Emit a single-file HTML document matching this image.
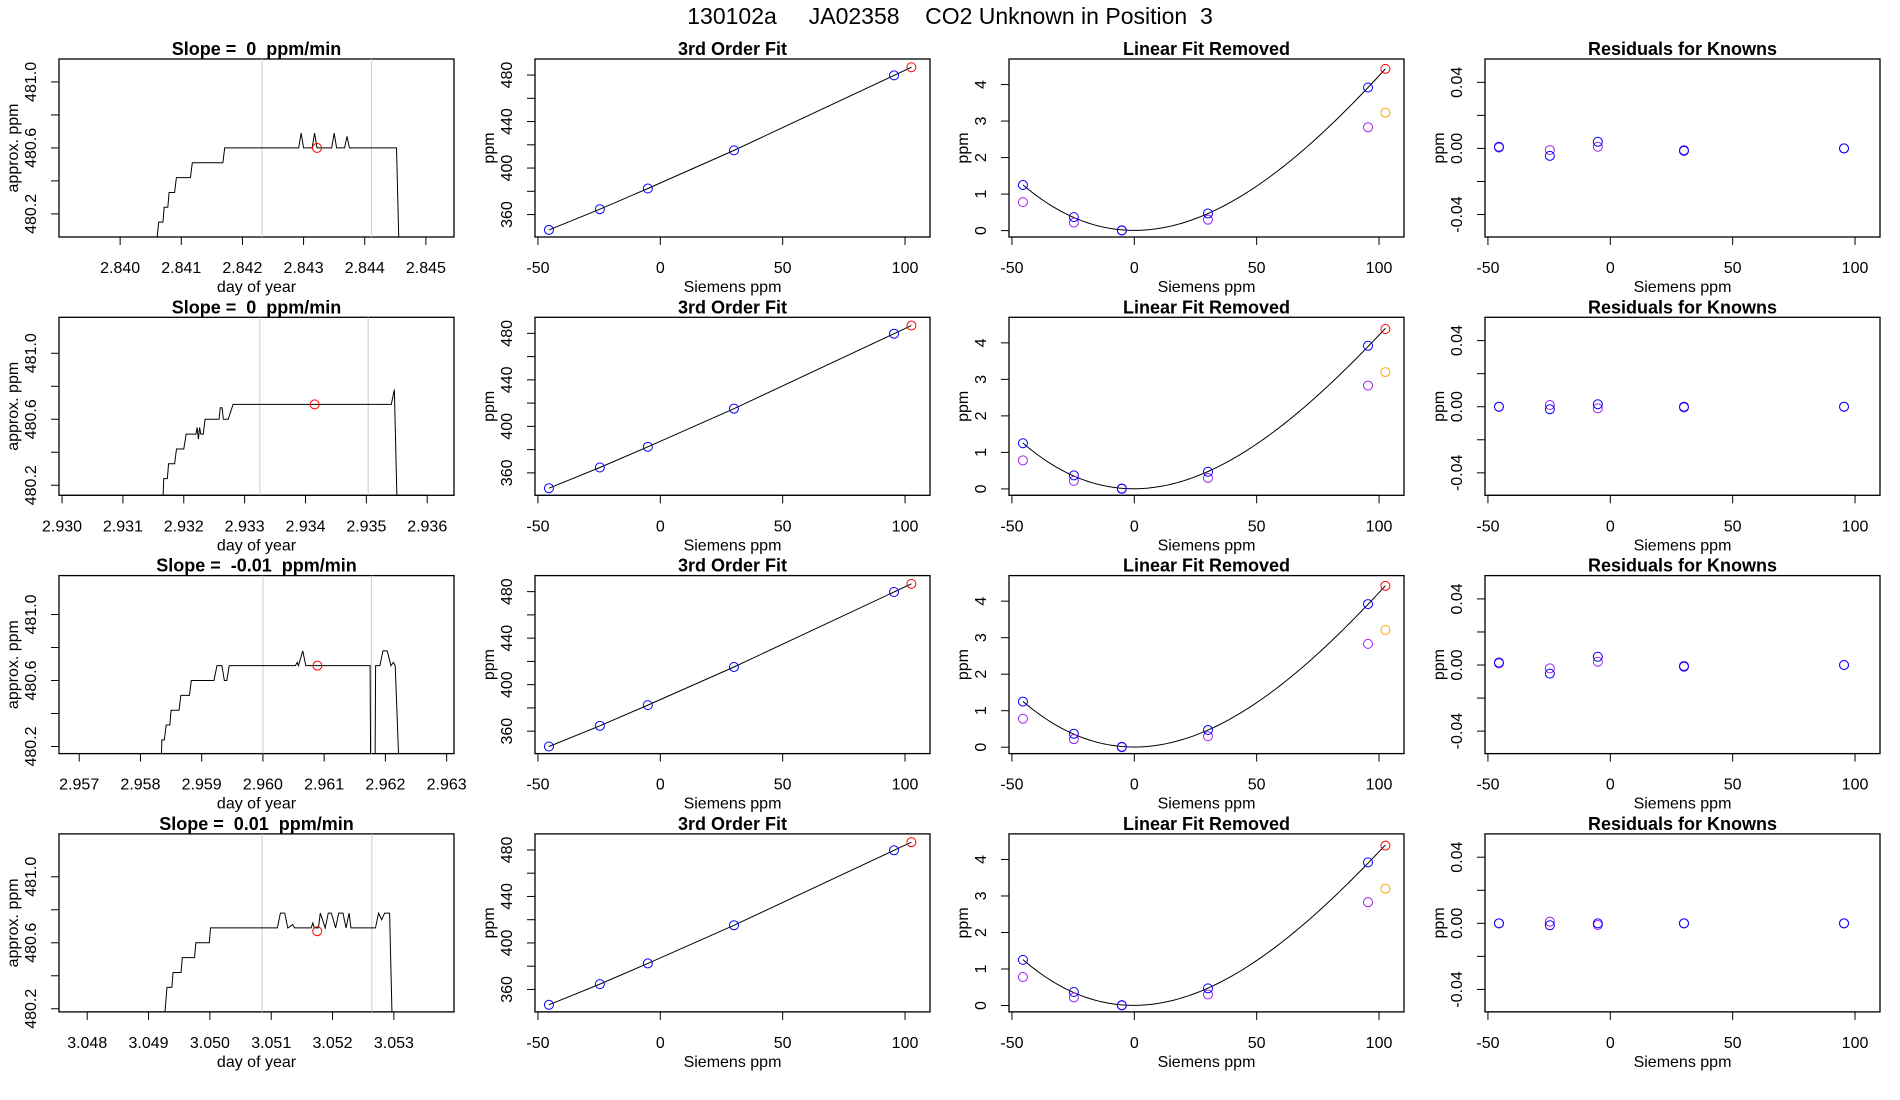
<!DOCTYPE html>
<html><head><meta charset="utf-8"><style>
html,body{margin:0;padding:0;background:#fff;}
svg{display:block;font-family:"Liberation Sans",sans-serif;}
svg text{white-space:pre;}
</style></head><body>
<svg id="fig" width="1900" height="1100" viewBox="0 0 1900 1100" xml:space="preserve">
<text x="950" y="24" text-anchor="middle" font-size="23">130102a     JA02358    CO2 Unknown in Position  3</text>
</svg>
<script>
// ---- data ----
const slopeTitles = ["Slope =  0  ppm/min","Slope =  0  ppm/min","Slope =  -0.01  ppm/min","Slope =  0.01  ppm/min"];
const tsXlims = [[2.8390,2.84546],[2.92995,2.93644],[2.95667,2.96312],[3.04754,3.05398]];
const tsYmax = [481.139,481.218,481.236,481.26];
const tsXticks = [[2.840,2.841,2.842,2.843,2.844,2.845],[2.930,2.931,2.932,2.933,2.934,2.935,2.936],[2.957,2.958,2.959,2.960,2.961,2.962,2.963],[3.048,3.049,3.050,3.051,3.052,3.053]];
const tsT0 = [2.8392,2.84059,2.84063,2.84070,2.84072,2.84078,2.84080,2.84089,2.84092,2.84115,2.84118,2.84168,2.84171,2.84292,2.84296,2.84300,2.84314,2.84318,2.84322,2.84346,2.8435,2.84354,2.84367,2.84371,2.84375,2.84452,2.84456,2.8455];
const tsV0 = [480.0,480.0,480.15,480.15,480.24,480.24,480.33,480.33,480.42,480.42,480.51,480.51,480.6,480.6,480.69,480.6,480.6,480.69,480.6,480.6,480.69,480.6,480.6,480.67,480.6,480.6,480.0,480.0];
const tsT1 = [2.9299,2.93165,2.93167,2.93173,2.93175,2.93185,2.93188,2.93200,2.93204,2.93220,2.93222,2.93224,2.93226,2.93228,2.93232,2.93235,2.93258,2.93260,2.93263,2.93265,2.93273,2.93281,2.93541,2.93546,2.93551,2.9365];
const tsV1 = [480.0,480.0,480.24,480.24,480.33,480.33,480.42,480.42,480.51,480.51,480.55,480.48,480.55,480.51,480.51,480.6,480.6,480.67,480.67,480.6,480.6,480.69,480.69,480.78,480.0,480.0];
const tsT2 = [2.9565,2.95833,2.95835,2.95839,2.95842,2.95848,2.9585,2.95863,2.95866,2.9588,2.95883,2.9592,2.95925,2.95933,2.95937,2.95941,2.95945,2.96053,2.96056,2.96058,2.96065,2.9607,2.96175,2.96176,2.96183,2.96184,2.96191,2.96196,2.96203,2.96209,2.96213,2.96216,2.96223,2.9635];
const tsV2 = [480.0,480.0,480.24,480.24,480.33,480.33,480.42,480.42,480.51,480.51,480.6,480.6,480.69,480.69,480.6,480.6,480.69,480.69,480.71,480.69,480.78,480.69,480.69,480.0,480.0,480.69,480.69,480.78,480.78,480.69,480.71,480.69,480.0,480.0];
const tsT3 = [3.0475,3.04923,3.0493,3.04938,3.0494,3.04953,3.04955,3.04975,3.04977,3.04999,3.05001,3.05110,3.05115,3.05122,3.05127,3.05135,3.05138,3.05165,3.05168,3.0517,3.05177,3.0518,3.05188,3.05193,3.05198,3.05205,3.0521,3.05217,3.05222,3.05227,3.0523,3.0527,3.05275,3.0528,3.05285,3.05293,3.05298,3.0540];
const tsV3 = [480.0,480.0,480.33,480.33,480.42,480.42,480.51,480.51,480.6,480.6,480.69,480.69,480.78,480.78,480.69,480.71,480.69,480.69,480.72,480.69,480.69,480.78,480.69,480.78,480.78,480.69,480.78,480.78,480.69,480.78,480.69,480.69,480.78,480.74,480.78,480.78,480.0,480.0];
const tsTimes = [tsT0,tsT1,tsT2,tsT3];
const tsVals = [tsV0,tsV1,tsV2,tsV3];
const redT = [2.84322,2.93415,2.96089,3.05175];
const redV = [480.6,480.69,480.69,480.67];
const grayT = [[2.84232,2.84411],[2.93325,2.93503],[2.9600,2.96177],[3.05085,3.05264]];

const knownX = [-45.5,-24.7,-5.1,30.1,95.5];
const knownY = [346.8,364.6,382.4,415.2,479.7];
const unkX = 102.6;
const unkY = 486.7;

const linBlue = [1.25,0.37,0.01,0.47,3.92];
const linPurple = [0.78,0.22,0.0,0.30,2.83];
const linRed = [4.43,4.38,4.42,4.38];
const linOrange = [3.23,3.20,3.21,3.20];

const resBlue = [[0.001,-0.0045,0.004,-0.0015,0.0],[0.0,-0.0015,0.0015,0.0,0.0],[0.0015,-0.0052,0.005,-0.001,0.0],[0.0,-0.0012,0.0,0.0,0.0]];
const resPurple = [[0.0005,-0.001,0.001,-0.001,0.0],[0.0,0.001,-0.001,-0.0005,0.0],[0.001,-0.002,0.002,-0.0005,0.0],[0.0,0.001,-0.001,0.0,0.0]];

const sieXticks = [-50,0,50,100];
// ---- layout ----
const svg = document.getElementById('fig');
const NS = 'http://www.w3.org/2000/svg';
const colL = [59,535,1009,1485], PW = 395, PH = 178;
function rowTop(r){return 59 + 258.3*r;}
function mk(tag, attrs, parent){const e=document.createElementNS(NS,tag);for(const k in attrs)e.setAttribute(k,attrs[k]);(parent||svg).appendChild(e);return e;}

function panel(r,c,xlim,ylim,title,xlab,ylab,xticks,yticks,ylabels,xfmt){
  const L=colL[c], T=rowTop(r);
  const g=mk('g',{});
  
  
  const sx=v=>L+(v-xlim[0])/(xlim[1]-xlim[0])*PW;
  const sy=v=>T+PH-(v-ylim[0])/(ylim[1]-ylim[0])*PH;
  const t=mk('text',{x:L+PW/2,y:T-4,'text-anchor':'middle','font-size':18,'font-weight':'bold'},g);
  t.textContent=title;
  
  
  const xa=mk('g',{stroke:'#000','stroke-width':1},g);
  
  
  mk('line',{x1:sx(xticks[0]),x2:sx(xticks[xticks.length-1]),y1:T+PH,y2:T+PH},xa);
  xticks.forEach(v=>{
    mk('line',{x1:sx(v),x2:sx(v),y1:T+PH,y2:T+PH+8},xa);
    const tx=mk('text',{x:sx(v),y:T+PH+36,'text-anchor':'middle','font-size':16,stroke:'none',fill:'#000'},g);
    tx.textContent=xfmt(v);
    
    
  });
  const xl=mk('text',{x:L+PW/2,y:T+PH+55,'text-anchor':'middle','font-size':16},g);
  xl.textContent=xlab;
  
  
  const ya=mk('g',{stroke:'#000','stroke-width':1},g);
  
  
  mk('line',{x1:L,x2:L,y1:sy(yticks[0]),y2:sy(yticks[yticks.length-1])},ya);
  yticks.forEach((v,i)=>{
    mk('line',{x1:L-8,x2:L,y1:sy(v),y2:sy(v)},ya);
    if(ylabels[i]!==''){
      const ty=mk('text',{transform:`translate(${L-23},${sy(v)}) rotate(-90)`,'text-anchor':'middle','font-size':16},g);
      ty.textContent=ylabels[i];
      
      
    }
  });
  const yl=mk('text',{transform:`translate(${L-41},${T+PH/2}) rotate(-90)`,'text-anchor':'middle','font-size':16},g);
  yl.textContent=ylab;
  
  
  const box=mk('rect',{x:L,y:T,width:PW,height:PH,fill:'none',stroke:'#000','stroke-width':1.3},g);
  
  
  const cid='clip'+r+c;
  const cp=mk('clipPath',{id:cid},g); mk('rect',{x:L,y:T,width:PW,height:PH},cp);
  const data=mk('g',{'clip-path':`url(#${cid})`},g);
  
  
  return {sx,sy,g:data};
}
function circ(p,x,y,col,name){
  const c=mk('circle',{cx:p.sx(x),cy:p.sy(y),r:4.5,fill:'none',stroke:col,'stroke-width':1},p.g);
  
  
}
function polyfit(xs,ys,d){
  const n=d+1;
  const A=[];
  for(let i=0;i<n;i++){A.push(new Array(n+1).fill(0));}
  xs.forEach((x,k)=>{for(let i=0;i<n;i++){for(let j=0;j<n;j++)A[i][j]+=Math.pow(x,i+j);A[i][n]+=ys[k]*Math.pow(x,i);}});
  for(let i=0;i<n;i++){for(let j=i+1;j<n;j++){const f=A[j][i]/A[i][i];for(let k=i;k<=n;k++)A[j][k]-=f*A[i][k];}}
  const c=new Array(n).fill(0);
  for(let i=n-1;i>=0;i--){let s=A[i][n];for(let k=i+1;k<n;k++)s-=A[i][k]*c[k];c[i]=s/A[i][i];}
  return c;
}
const sieXlim=[-51.2,110.2];
for(let r=0;r<4;r++){
  const ymax=tsYmax[r];
  const p1=panel(r,0,tsXlims[r],[ymax-1.079,ymax],slopeTitles[r],'day of year','approx. ppm',tsXticks[r],[480.2,480.4,480.6,480.8,481.0],['480.2','','480.6','','481.0'],v=>v.toFixed(3));
  grayT[r].forEach(t=>{
    const l=mk('line',{x1:p1.sx(t),x2:p1.sx(t),y1:rowTop(r),y2:rowTop(r)+PH,stroke:'#cccccc','stroke-width':1},p1.g);
    
    
  });
  const pts=tsTimes[r].map((t,i)=>p1.sx(t).toFixed(2)+','+p1.sy(tsVals[r][i]).toFixed(2)).join(' ');
  const pl=mk('polyline',{points:pts,fill:'none',stroke:'#000','stroke-width':1},p1.g);
  
  
  circ(p1,redT[r],redV[r],'#ff0000','unknown-mean-point');

  const p2=panel(r,1,sieXlim,[340.7,493.8],'3rd Order Fit','Siemens ppm','ppm',sieXticks,[360,380,400,420,440,460,480],['360','','400','','440','','480'],v=>String(v));
  const fx=knownX.concat([unkX]), fy=knownY.concat([unkY]);
  const lp=mk('polyline',{points:fx.map((x,i)=>p2.sx(x)+','+p2.sy(fy[i])).join(' '),fill:'none',stroke:'#000','stroke-width':1},p2.g);
  
  
  knownX.forEach((x,i)=>circ(p2,x,knownY[i],'#0000ff','known-point'));
  circ(p2,unkX,unkY,'#ff0000','unknown-point');

  const p3=panel(r,2,sieXlim,[-0.175,4.70],'Linear Fit Removed','Siemens ppm','ppm',sieXticks,[0,1,2,3,4],['0','1','2','3','4'],v=>String(v));
  const cx=knownX.concat([unkX]), cy=linBlue.concat([linRed[r]]);
  const co=polyfit(cx,cy,3);
  const cp=[];
  for(let i=0;i<=120;i++){const x=knownX[0]+(unkX-knownX[0])*i/120;let y=0;for(let k=0;k<co.length;k++)y+=co[k]*Math.pow(x,k);cp.push(p3.sx(x).toFixed(2)+','+p3.sy(y).toFixed(2));}
  const cl=mk('polyline',{points:cp.join(' '),fill:'none',stroke:'#000','stroke-width':1},p3.g);
  
  
  knownX.forEach((x,i)=>circ(p3,x,linPurple[i],'#a020f0','linear-removed-purple'));
  knownX.forEach((x,i)=>circ(p3,x,linBlue[i],'#0000ff','linear-removed-blue'));
  circ(p3,unkX,linRed[r],'#ff0000','unknown-red');
  circ(p3,unkX,linOrange[r],'#ffa500','unknown-orange');

  const p4=panel(r,3,sieXlim,[-0.0536,0.0541],'Residuals for Knowns','Siemens ppm','ppm',sieXticks,[-0.04,-0.02,0,0.02,0.04],['-0.04','','0.00','','0.04'],v=>String(v));
  knownX.forEach((x,i)=>circ(p4,x,resPurple[r][i],'#a020f0','residual-purple'));
  knownX.forEach((x,i)=>circ(p4,x,resBlue[r][i],'#0000ff','residual-blue'));
}
</script>
</body></html>
